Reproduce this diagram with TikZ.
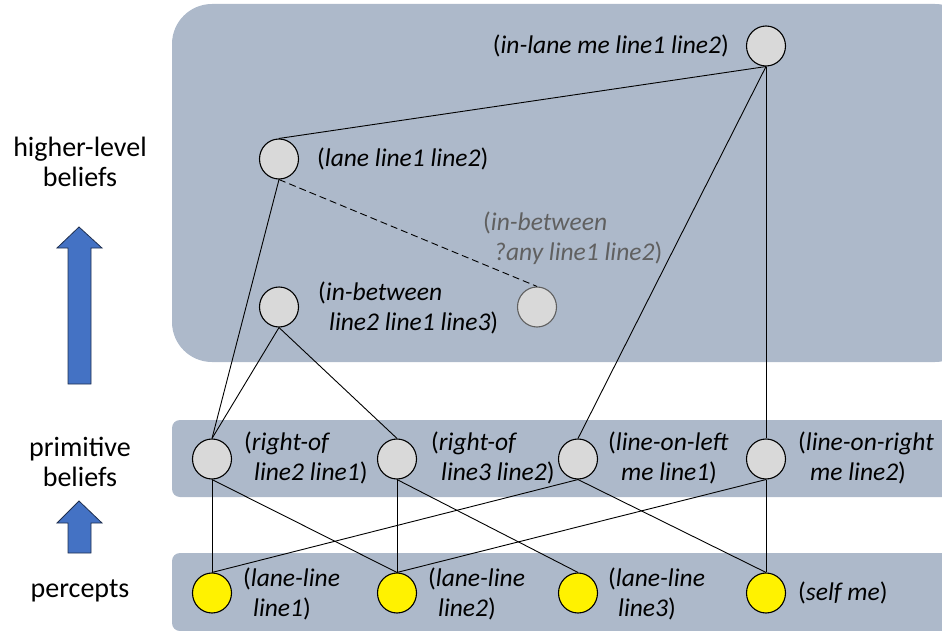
\documentclass[tikz,border=0pt]{standalone}
\usepackage{fontspec}
\setmainfont{Carlito}
\usetikzlibrary{shapes.geometric}
\definecolor{bandblue}{HTML}{ADB9CA}
\definecolor{nodegray}{HTML}{D9D9D9}
\definecolor{arrowblue}{HTML}{4472C4}
\definecolor{arrowedge}{HTML}{1F2F4F}
\definecolor{textgray}{HTML}{606060}
\begin{document}
\begin{tikzpicture}[x=1pt,y=-1pt]
    \tikzstyle{belief}=[ellipse,draw=black,line width=1.1pt,fill=nodegray,minimum width=39pt,minimum height=40pt,inner sep=0pt]
    \tikzstyle{percept}=[belief,fill=yellow]
    \tikzstyle{lbl}=[anchor=west,align=left,inner sep=0pt,font=\fontsize{25.5}{30}\selectfont]
    \tikzstyle{side}=[align=center,inner sep=0pt,font=\fontsize{28}{30}\selectfont]
    \tikzstyle{link}=[line width=0.9pt]
    \useasboundingbox (0,0) rectangle (942,631);
    % bands
    \fill[bandblue, rounded corners=40pt] (172,4) rectangle (975,362);
    \fill[bandblue, rounded corners=8pt] (172,420) rectangle (975,497);
    \fill[bandblue, rounded corners=8pt] (172,553) rectangle (975,631);
    % higher-level beliefs
    \node[belief] (inlane) at (766,46){};
    \node[belief] (lane) at (279,159){};
    \node[belief] (inbtw) at (279,307){};
    \node[belief,draw=textgray] (anybtw) at (537,307){};
    \node[lbl,anchor=east] (inlaneL) at (729,46){(\textit{in-lane me line1 line2})};
    \node[lbl] (laneL) at (317,159){(\textit{lane line1 line2})};
    \node[lbl,text=textgray] (anybtwL) at (483,238){(\textit{in-between}\\\hspace{11pt}\textit{?any line1 line2})};
    \node[lbl] (inbtwL) at (318,308){(\textit{in-between}\\\hspace{11pt}\textit{line2 line1 line3})};
    % primitive beliefs
    \node[belief] (rof1) at (212,459){};
    \node[belief] (rof2) at (397,459){};
    \node[belief] (lol) at (578,459){};
    \node[belief] (lor) at (766,459){};
    \node[lbl] (rof1L) at (244,458){(\textit{right-of}\\\hspace{10pt}\textit{line2 line1})};
    \node[lbl] (rof2L) at (431,458){(\textit{right-of}\\\hspace{10pt}\textit{line3 line2})};
    \node[lbl] (lolL) at (608,458){(\textit{line-on-left}\\\hspace{13pt}\textit{me line1})};
    \node[lbl] (lorL) at (798,458){(\textit{line-on-right}\\\hspace{12pt}\textit{me line2})};
    % percepts
    \node[percept] (ll1) at (212,593){};
    \node[percept] (ll2) at (397,593){};
    \node[percept] (ll3) at (578,593){};
    \node[percept] (self) at (766,593){};
    \node[lbl] (ll1L) at (243,594){(\textit{lane-line}\\\hspace{10pt}\textit{line1})};
    \node[lbl] (ll2L) at (428,594){(\textit{lane-line}\\\hspace{10pt}\textit{line2})};
    \node[lbl] (ll3L) at (608,594){(\textit{lane-line}\\\hspace{10pt}\textit{line3})};
    \node[lbl] (selfL) at (798,593){(\textit{self me})};
    % links
    \draw[link] (lane.north) -- (inlane.south);
    \draw[link] (lane.south) -- (rof1.north);
    \draw[link,dash pattern=on 7pt off 4pt] (lane.south) -- (anybtw.north);
    \draw[link] (inbtw.south) -- (rof1.north);
    \draw[link] (inbtw.south) -- (rof2.north);
    \draw[link] (inlane.south) -- (lol.north);
    \draw[link] (inlane.south) -- (lor.north);
    \draw[link] (rof1.south) -- (ll1.north);
    \draw[link] (rof1.south) -- (ll2.north);
    \draw[link] (rof2.south) -- (ll2.north);
    \draw[link] (rof2.south) -- (ll3.north);
    \draw[link] (lol.south) -- (ll1.north);
    \draw[link] (lol.south) -- (self.north);
    \draw[link] (lor.south) -- (ll2.north);
    \draw[link] (lor.south) -- (self.north);
    % side labels and arrows
    \node[side] (hl) at (80,162){higher-level\\beliefs};
    \node[side] (pb) at (80,462){primitive\\beliefs};
    \node[side] (pc) at (80,591){percepts};
    \filldraw[fill=arrowblue,draw=arrowedge,line width=0.8pt] (79,227) -- (102,248) -- (91,248) -- (91,384) -- (68,384) -- (68,248) -- (57,248) -- cycle;
    \filldraw[fill=arrowblue,draw=arrowedge,line width=0.8pt] (79,501) -- (102,523) -- (91,523) -- (91,553) -- (68,553) -- (68,523) -- (57,523) -- cycle;
\end{tikzpicture}
\end{document}
